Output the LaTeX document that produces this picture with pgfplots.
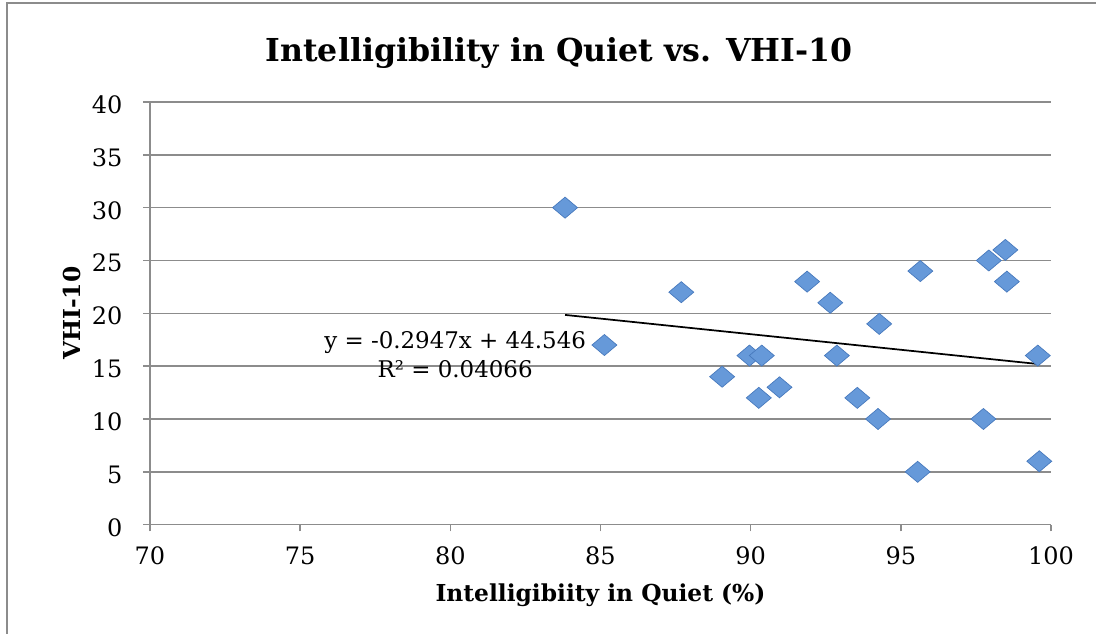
\documentclass[border=0pt]{standalone}
\usepackage{fontspec}
\setmainfont{DejaVu Serif}
\usepackage{pgfplots}
\pgfplotsset{compat=1.18}
\definecolor{gridgray}{RGB}{140,140,140}
\definecolor{mkfill}{RGB}{102,153,217}
\definecolor{mkdraw}{RGB}{70,120,188}

\pgfplotstableread{
x y
83.82 30
85.13 17
87.69 22
89.05 14
89.96 16
90.37 16
90.27 12
90.96 13
91.88 23
92.65 21
92.87 16
93.55 12
94.28 19
94.24 10
95.56 5
95.65 24
97.75 10
97.93 25
98.48 26
98.53 23
99.56 16
99.61 6
}\datatable

\begin{document}
\begin{tikzpicture}
\useasboundingbox (0,0) rectangle (822pt,475.5pt);
\draw[gridgray, line width=1.2pt] (5.25pt,-20pt) -- (5.25pt,473.25pt) -- (840pt,473.25pt);
\begin{axis}[
  at={(112.5pt,82pt)}, anchor=south west,
  scale only axis, width=675.75pt, height=317pt,
  xmin=70, xmax=100, ymin=0, ymax=40,
  xtick={70,75,...,100}, ytick={0,5,...,40},
  axis x line*=bottom, axis y line*=left,
  axis line style={gridgray, line width=1.1pt, -},
  ymajorgrids, grid style={gridgray, line width=1.1pt},
  tick align=outside, major tick length=5pt,
  tick style={gridgray, line width=1.1pt},
  /pgf/number format/assume math mode=true,
  ticklabel style={font=\fontsize{18}{20}\selectfont, text=black},
  xticklabel style={anchor=base, inner sep=0pt, yshift=-25pt},
  yticklabel style={anchor=east, inner sep=0pt, xshift=-15.5pt, yshift=-2pt},
  title={\textbf{Intelligibility in Quiet vs. VHI-10}},
  title style={at={(0.454,1)}, anchor=base, yshift=24pt, font=\fontsize{23.7}{27}\selectfont},
  xlabel={\textbf{Intelligibiity in Quiet (\%)}},
  every axis x label/.style={at={([yshift=-57.8pt]rel axis cs:0.5,0)}, anchor=base, font=\fontsize{17.5}{20}\selectfont},
  ylabel={\textbf{VHI-10}},
  every axis y label/.style={at={([xshift=-52.5pt]rel axis cs:0,0.5)}, rotate=90, anchor=base, font=\fontsize{17.5}{20}\selectfont},
  clip=false,
]
\addplot[only marks, mark=diamond*, mark size=7.9pt,
  mark options={xscale=1.58, fill=mkfill, draw=mkdraw, line width=0.5pt}]
  table[x=x, y=y] {\datatable};
\addplot[black, line width=1.3pt] coordinates {(83.82,19.85) (99.61,15.19)};
\node[anchor=base, font=\fontsize{17.2}{19}\selectfont] at (axis cs:80.16,16.65) {y = -0.2947x + 44.546};
\node[anchor=base, font=\fontsize{17.2}{19}\selectfont] at (axis cs:80.16,13.9) {R² = 0.04066};
\end{axis}
\end{tikzpicture}
\end{document}
